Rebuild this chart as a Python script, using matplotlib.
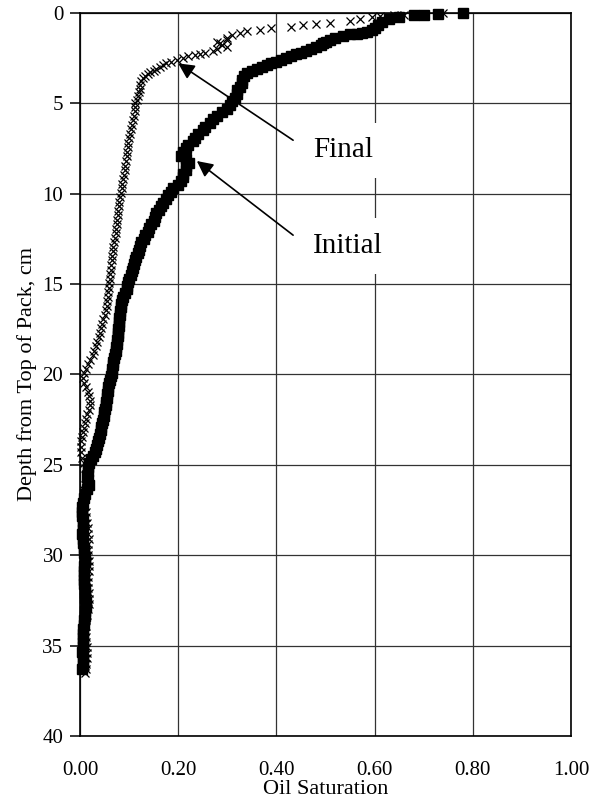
import numpy as np
import matplotlib
matplotlib.use("Agg")
import matplotlib.pyplot as plt

plt.rcParams['font.family'] = ['Liberation Serif', 'DejaVu Serif']

# (depth cm, oil saturation)
initial_pts = [
    (0.00, 0.780), (0.05, 0.730), (0.10, 0.700), (0.15, 0.680), (0.25, 0.650),
    (0.35, 0.630), (0.50, 0.615), (0.70, 0.607), (0.85, 0.600), (0.95, 0.595),
    (1.05, 0.585), (1.10, 0.575), (1.15, 0.565), (1.20, 0.550), (1.30, 0.535),
    (1.40, 0.520), (1.50, 0.510), (1.60, 0.500), (1.70, 0.495), (1.80, 0.490),
    (1.90, 0.480), (2.00, 0.470), (2.10, 0.460), (2.20, 0.450), (2.30, 0.440),
    (2.40, 0.430), (2.50, 0.420), (2.60, 0.410), (2.70, 0.400), (2.80, 0.390),
    (2.90, 0.380), (3.00, 0.370), (3.10, 0.360), (3.20, 0.350), (3.35, 0.340),
    (3.50, 0.335), (3.70, 0.330), (3.90, 0.330), (4.10, 0.325), (4.30, 0.320),
    (4.50, 0.320), (4.70, 0.315), (4.90, 0.310), (5.10, 0.305), (5.30, 0.300),
    (5.50, 0.290), (5.70, 0.280), (5.90, 0.270), (6.10, 0.265), (6.30, 0.255),
    (6.50, 0.250), (6.70, 0.240), (6.90, 0.235), (7.10, 0.230), (7.30, 0.220),
    (7.50, 0.215), (7.70, 0.210), (7.90, 0.205), (8.10, 0.215), (8.30, 0.222),
    (8.50, 0.216), (8.70, 0.215), (8.90, 0.210), (9.10, 0.210), (9.30, 0.205),
    (9.50, 0.200), (9.70, 0.190), (9.90, 0.185), (10.10, 0.180), (10.30, 0.175),
    (10.50, 0.170), (10.70, 0.165), (10.90, 0.160), (11.10, 0.155), (11.30, 0.153),
    (11.50, 0.150), (11.70, 0.145), (11.90, 0.140), (12.10, 0.138), (12.30, 0.133),
    (12.50, 0.130), (12.70, 0.125), (12.90, 0.122), (13.10, 0.120), (13.30, 0.118),
    (13.50, 0.115), (13.70, 0.113), (13.90, 0.110), (14.10, 0.108), (14.30, 0.106),
    (14.50, 0.104), (14.70, 0.100), (14.90, 0.098), (15.10, 0.096), (15.30, 0.095),
    (15.50, 0.092), (15.70, 0.088), (15.90, 0.086), (16.10, 0.084), (16.30, 0.083),
    (16.50, 0.082), (16.70, 0.081), (16.90, 0.080), (17.10, 0.080), (17.30, 0.079),
    (17.50, 0.078), (17.70, 0.077), (17.90, 0.077), (18.10, 0.076), (18.30, 0.075),
    (18.50, 0.074), (18.70, 0.073), (18.90, 0.071), (19.10, 0.069), (19.30, 0.068),
    (19.50, 0.067), (19.70, 0.066), (19.90, 0.065), (20.10, 0.063), (20.30, 0.061),
    (20.50, 0.060), (20.70, 0.058), (20.90, 0.057), (21.10, 0.056), (21.30, 0.055),
    (21.50, 0.053), (21.70, 0.052), (21.90, 0.050), (22.10, 0.049), (22.30, 0.048),
    (22.50, 0.047), (22.70, 0.045), (22.90, 0.043), (23.10, 0.042), (23.30, 0.040),
    (23.50, 0.038), (23.70, 0.036), (23.90, 0.035), (24.10, 0.033), (24.30, 0.030),
    (24.50, 0.027), (24.70, 0.023), (24.90, 0.019), (25.10, 0.017), (25.35, 0.016),
    (25.60, 0.015), (25.85, 0.017), (26.10, 0.018), (26.35, 0.014), (26.60, 0.011),
    (26.85, 0.008), (27.10, 0.006), (27.35, 0.005), (27.60, 0.004), (27.85, 0.005),
    (28.10, 0.006), (28.35, 0.007), (28.60, 0.006), (28.85, 0.005), (29.10, 0.006),
    (29.35, 0.007), (29.60, 0.008), (29.85, 0.009), (30.10, 0.010), (30.35, 0.010),
    (30.60, 0.009), (30.85, 0.009), (31.10, 0.008), (31.35, 0.008), (31.60, 0.009),
    (31.85, 0.010), (32.10, 0.011), (32.35, 0.011), (32.60, 0.012), (32.85, 0.012),
    (33.10, 0.011), (33.35, 0.010), (33.60, 0.009), (33.85, 0.008), (34.10, 0.007),
    (34.35, 0.007), (34.60, 0.006), (34.85, 0.006), (35.10, 0.006), (35.35, 0.005),
    (35.60, 0.006), (35.85, 0.007), (36.10, 0.006), (36.30, 0.005),
]

final_pts = [
    (0.00, 0.740), (0.05, 0.700), (0.10, 0.660), (0.15, 0.640), (0.20, 0.610),
    (0.25, 0.595), (0.35, 0.570), (0.45, 0.550), (0.55, 0.510), (0.65, 0.480),
    (0.70, 0.455), (0.80, 0.430), (0.85, 0.390), (0.95, 0.367), (1.00, 0.340),
    (1.10, 0.325), (1.25, 0.310), (1.40, 0.300), (1.50, 0.300), (1.60, 0.280),
    (1.70, 0.285), (1.80, 0.290), (1.90, 0.300), (2.00, 0.280), (2.10, 0.270),
    (2.20, 0.255), (2.30, 0.245), (2.35, 0.235), (2.40, 0.220), (2.50, 0.210),
    (2.60, 0.197), (2.70, 0.185), (2.80, 0.175), (2.90, 0.170), (3.00, 0.162),
    (3.10, 0.155), (3.20, 0.150), (3.30, 0.143), (3.40, 0.138), (3.50, 0.133),
    (3.60, 0.128), (3.80, 0.125), (4.00, 0.123), (4.20, 0.122), (4.40, 0.120),
    (4.60, 0.118), (4.80, 0.116), (5.00, 0.113), (5.20, 0.113), (5.45, 0.111),
    (5.70, 0.110), (5.95, 0.108), (6.20, 0.106), (6.45, 0.104), (6.70, 0.102),
    (6.95, 0.100), (7.20, 0.098), (7.45, 0.097), (7.70, 0.096), (7.95, 0.095),
    (8.20, 0.093), (8.45, 0.092), (8.70, 0.091), (8.95, 0.089), (9.20, 0.088),
    (9.45, 0.086), (9.70, 0.085), (9.95, 0.083), (10.20, 0.082), (10.45, 0.080),
    (10.70, 0.079), (10.95, 0.078), (11.20, 0.077), (11.45, 0.076), (11.70, 0.075),
    (11.95, 0.074), (12.20, 0.073), (12.45, 0.071), (12.70, 0.070), (12.95, 0.068),
    (13.20, 0.067), (13.45, 0.066), (13.70, 0.065), (13.95, 0.064), (14.20, 0.063),
    (14.45, 0.062), (14.70, 0.061), (14.95, 0.060), (15.20, 0.059), (15.45, 0.058),
    (15.70, 0.057), (15.95, 0.056), (16.20, 0.055), (16.45, 0.053), (16.70, 0.050),
    (16.95, 0.047), (17.20, 0.045), (17.45, 0.043), (17.70, 0.041), (17.95, 0.038),
    (18.20, 0.035), (18.45, 0.032), (18.70, 0.029), (18.95, 0.026), (19.20, 0.021),
    (19.45, 0.016), (19.70, 0.012), (19.95, 0.008), (20.20, 0.006), (20.45, 0.009),
    (20.70, 0.013), (20.95, 0.016), (21.20, 0.018), (21.45, 0.020), (21.70, 0.020),
    (21.95, 0.018), (22.20, 0.015), (22.45, 0.012), (22.70, 0.010), (22.95, 0.008),
    (23.20, 0.006), (23.45, 0.004), (23.70, 0.003), (24.00, 0.002), (24.30, 0.003),
    (24.60, 0.005), (24.90, 0.008), (25.20, 0.010), (25.50, 0.012), (25.80, 0.013),
    (26.10, 0.011), (26.40, 0.009), (26.70, 0.008), (27.00, 0.009), (27.30, 0.011),
    (27.60, 0.012), (27.90, 0.013), (28.20, 0.014), (28.50, 0.016), (28.80, 0.017),
    (29.10, 0.018), (29.40, 0.017), (29.70, 0.016), (30.00, 0.017), (30.30, 0.018),
    (30.60, 0.019), (30.90, 0.018), (31.20, 0.017), (31.50, 0.016), (31.80, 0.017),
    (32.10, 0.018), (32.40, 0.019), (32.70, 0.018), (33.00, 0.017), (33.30, 0.015),
    (33.60, 0.013), (33.90, 0.012), (34.20, 0.011), (34.50, 0.012), (34.80, 0.013),
    (35.10, 0.014), (35.40, 0.015), (35.70, 0.014), (36.00, 0.013), (36.30, 0.012),
    (36.50, 0.011),
]

x_ticks = [0.0, 0.2, 0.4, 0.6, 0.8, 1.0]
y_ticks = [0, 5, 10, 15, 20, 25, 30, 35, 40]

init_depth, init_sat = np.array(initial_pts).T
final_depth, final_sat = np.array(final_pts).T

fig = plt.figure(figsize=(5.9, 8.06), dpi=100)
ax = fig.add_axes([0.1356, 0.0868, 0.8322, 0.8974])

ax.plot(init_sat, init_depth, linestyle='none', marker='s', markersize=7.5,
        color='black', zorder=3, clip_on=False)
ax.plot(final_sat, final_depth, linestyle='none', marker='x', markersize=6,
        markeredgewidth=0.9, color='black', zorder=4, clip_on=False)

ax.set_xlim(0, 1.0)
ax.set_ylim(40, 0)
ax.set_xticks(x_ticks)
ax.set_xticklabels(['%.2f' % v for v in x_ticks])
ax.set_yticks(y_ticks)
ax.grid(True, color='#333333', linewidth=0.9)
ax.set_axisbelow(True)
for s in ax.spines.values():
    s.set_linewidth(1.2)
ax.tick_params(axis='y', direction='out', length=7, width=1.1, labelsize=15, pad=5)
ax.tick_params(axis='x', length=0, labelsize=15, pad=18)

ax.set_xlabel('Oil Saturation', fontsize=16, labelpad=0)
ax.set_ylabel('Depth from Top of Pack, cm', fontsize=16, labelpad=4)

arrow_style = dict(arrowstyle='-|>', color='black', lw=1.2,
                   mutation_scale=24, shrinkA=0, shrinkB=0)
box_style = dict(boxstyle='square,pad=0.5', fc='white', ec='none')

ax.annotate('', xy=(0.20, 2.8), xytext=(0.434, 7.05), arrowprops=arrow_style)
ax.annotate('', xy=(0.238, 8.2), xytext=(0.434, 12.3), arrowprops=arrow_style)
ax.text(0.475, 7.6, 'Final', fontsize=21, va='center', ha='left', bbox=box_style)
ax.text(0.475, 12.9, 'Initial', fontsize=21, va='center', ha='left', bbox=box_style)

fig.savefig('out.png', dpi=100)
